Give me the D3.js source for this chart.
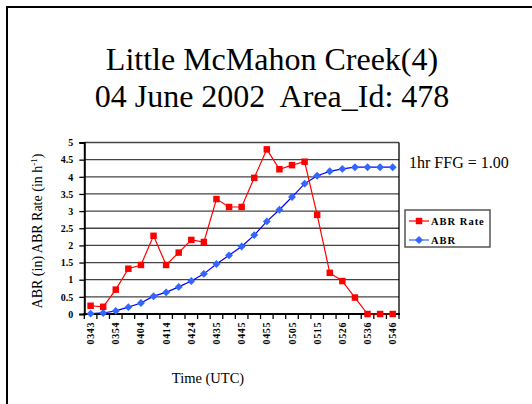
<!DOCTYPE html>
<html>
<head>
<meta charset="utf-8">
<script src="https://cdn.jsdelivr.net/npm/d3@7"></script>
<style>
  body { margin: 0; background: #fff; }
  svg { display: block; font-family: "Liberation Serif", "Times New Roman", serif; }
</style>
</head>
<body>
<svg id="chart" width="532" height="404"></svg>
<script>
// times (UTC), every other one is labelled on the axis
const times = ["0343", "0348", "0354", "0359", "0404", "0409", "0414", "0419", "0424", "0430",
               "0435", "0440", "0445", "0450", "0455", "0500", "0505", "0510", "0515", "0521",
               "0526", "0531", "0536", "0541", "0546"];

const abrRate = [0.24, 0.21, 0.71, 1.32, 1.43, 2.28, 1.43, 1.79, 2.16, 2.10,
                 3.35, 3.12, 3.12, 3.97, 4.80, 4.22, 4.34, 4.44, 2.89, 1.20,
                 0.96, 0.48, 0, 0, 0];

const abr = [0.01, 0.03, 0.09, 0.20, 0.32, 0.52, 0.63, 0.79, 0.96, 1.17,
             1.46, 1.71, 1.97, 2.30, 2.70, 3.04, 3.41, 3.80, 4.03, 4.16,
             4.23, 4.28, 4.28, 4.28, 4.28];

const yTicks = [0, 0.5, 1, 1.5, 2, 2.5, 3, 3.5, 4, 4.5, 5];

const svg = d3.select("#chart");

const plot = {left: 84.3, right: 399, top: 142.5, bottom: 314};

const x = d3.scaleBand()
  .domain(times)
  .range([plot.left, plot.right])
  .padding(0);

const y = d3.scaleLinear()
  .domain([0, 5])
  .range([plot.bottom, plot.top]);

// outer frame (only top and left edges visible)
svg.append("path")
  .attr("d", "M7,404V7H532")
  .attr("fill", "none")
  .attr("stroke", "#000")
  .attr("stroke-width", 2);

// title
svg.append("text")
  .attr("x", 272).attr("y", 70)
  .attr("text-anchor", "middle")
  .style("font-size", "32px")
  .text("Little McMahon Creek(4)");

svg.append("text")
  .attr("x", 272).attr("y", 107)
  .attr("text-anchor", "middle")
  .style("font-size", "32px")
  .style("white-space", "pre")
  .text("04 June 2002  Area_Id: 478");

// grid lines
svg.append("g")
  .selectAll("line")
  .data(yTicks)
  .enter().append("line")
    .attr("x1", plot.left).attr("x2", plot.right)
    .attr("y1", d => y(d)).attr("y2", d => y(d))
    .attr("stroke", "#444")
    .attr("stroke-width", 1.3);

// right border of plot
svg.append("line")
  .attr("x1", plot.right).attr("x2", plot.right)
  .attr("y1", plot.top).attr("y2", plot.bottom)
  .attr("stroke", "#000").attr("stroke-width", 1.3);

// y axis
const yAxis = svg.append("g")
  .attr("transform", `translate(${plot.left},0)`)
  .call(d3.axisLeft(y).tickValues(yTicks).tickSize(5).tickPadding(6)
          .tickFormat(d3.format("")));
yAxis.select(".domain").attr("stroke-width", 2);
yAxis.selectAll(".tick line").attr("stroke-width", 1.3);
yAxis.selectAll("text")
  .style("font-family", "Liberation Serif")
  .style("font-size", "10px")
  .style("font-weight", "bold")
  .attr("fill", "#000");

// x axis: baseline and boundary ticks
svg.append("line")
  .attr("x1", plot.left - 1).attr("x2", plot.right + 1)
  .attr("y1", plot.bottom).attr("y2", plot.bottom)
  .attr("stroke", "#000").attr("stroke-width", 2);

const bounds = times.map(t => x(t)).concat([plot.right]);
svg.append("g")
  .selectAll("line")
  .data(bounds)
  .enter().append("line")
    .attr("x1", d => d).attr("x2", d => d)
    .attr("y1", plot.bottom).attr("y2", plot.bottom + 5)
    .attr("stroke", "#000").attr("stroke-width", 1.3);

svg.append("g")
  .selectAll("text")
  .data(times.filter((t, i) => i % 2 === 0))
  .enter().append("text")
    .attr("transform", d => `translate(${x(d) + x.bandwidth() / 2 + 3.5},${plot.bottom + 8}) rotate(-90)`)
    .attr("text-anchor", "end")
    .style("font-size", "10px")
    .style("font-weight", "bold")
    .style("letter-spacing", "0.6px")
    .text(d => d);

// axis titles
const yTitle = svg.append("text")
  .attr("transform", "translate(42,231) rotate(-90)")
  .attr("text-anchor", "middle")
  .style("font-size", "14px");
yTitle.append("tspan").text("ABR (in) ABR Rate (in h");
yTitle.append("tspan").attr("dy", -5).style("font-size", "9px").text("-1");
yTitle.append("tspan").attr("dy", 5).text(")");

svg.append("text")
  .attr("x", 208).attr("y", 383)
  .attr("text-anchor", "middle")
  .style("font-size", "14.5px")
  .text("Time (UTC)");

// series
const cx = d => x(d) + x.bandwidth() / 2;

const line = d3.line()
  .x((d, i) => cx(times[i]))
  .y(d => y(d));

svg.append("path")
  .datum(abr)
  .attr("d", line)
  .attr("fill", "none")
  .attr("stroke", "#0000ff")
  .attr("stroke-width", 1.2);

svg.append("path")
  .datum(abrRate)
  .attr("d", line)
  .attr("fill", "none")
  .attr("stroke", "#ff0000")
  .attr("stroke-width", 1.2);

const diamond = d3.symbol().type(d3.symbolDiamond2).size(40);
const square = d3.symbol().type(d3.symbolSquare).size(42);

svg.append("g")
  .selectAll("path")
  .data(abr)
  .enter().append("path")
    .attr("d", diamond)
    .attr("transform", (d, i) => `translate(${cx(times[i])},${y(d)})`)
    .attr("fill", "#3366ff");

svg.append("g")
  .selectAll("path")
  .data(abrRate)
  .enter().append("path")
    .attr("d", square)
    .attr("transform", (d, i) => `translate(${cx(times[i])},${y(d)})`)
    .attr("fill", "#ff0000");

// FFG note
svg.append("text")
  .attr("x", 409).attr("y", 168)
  .style("font-size", "16px")
  .text("1hr FFG = 1.00");

// legend
const legendItems = [
  {name: "ABR Rate", color: "#ff0000", line: "#ff0000", sym: square},
  {name: "ABR", color: "#3366ff", line: "#3366ff", sym: diamond}
];

const legend = svg.append("g");
legend.append("rect")
  .attr("x", 405).attr("y", 210)
  .attr("width", 85).attr("height", 37)
  .attr("fill", "#fff")
  .attr("stroke", "#555")
  .attr("stroke-width", 1.5);

const li = legend.selectAll("g.item")
  .data(legendItems)
  .enter().append("g")
    .attr("class", "item")
    .attr("transform", (d, i) => `translate(0,${221 + 19 * i})`);

li.append("line")
  .attr("x1", 409).attr("x2", 429)
  .attr("stroke", d => d.line)
  .attr("stroke-width", 1.2);
li.append("path")
  .attr("d", d => d.sym())
  .attr("transform", "translate(419,0)")
  .attr("fill", d => d.color);
li.append("text")
  .attr("x", 431).attr("y", 4)
  .style("font-size", "10.5px")
  .style("font-weight", "bold")
  .style("letter-spacing", "1px")
  .text(d => d.name);
</script>
</body>
</html>
